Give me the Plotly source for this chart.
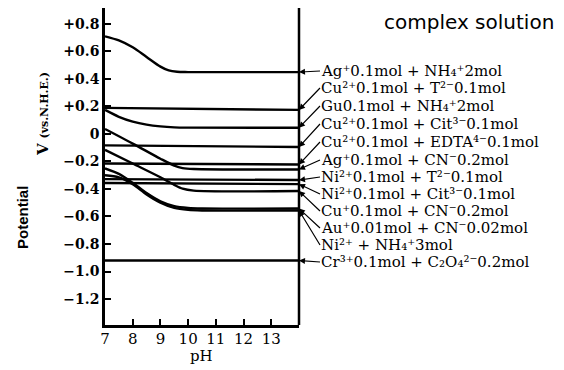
import plotly.graph_objects as go

# ---------------- data ----------------
ph_ag_nh4 = [7, 7.5, 8, 8.5, 9, 9.3, 9.6, 10, 14]
v_ag_nh4 = [0.71, 0.68, 0.63, 0.56, 0.49, 0.462, 0.452, 0.45, 0.45]

ph_cu_t = [7, 14]
v_cu_t = [0.19, 0.175]

ph_cu_nh4 = [7, 7.5, 8, 8.5, 9, 9.5, 10, 14]
v_cu_nh4 = [0.175, 0.125, 0.09, 0.068, 0.055, 0.048, 0.046, 0.045]

ph_cu_cit = [7, 14]
v_cu_cit = [-0.083, -0.095]

ph_cu_edta = [7, 14]
v_cu_edta = [-0.215, -0.222]

ph_ag_cn = [7, 8, 9, 9.5, 9.8, 10.2, 14]
v_ag_cn = [0.036, -0.07, -0.18, -0.23, -0.248, -0.255, -0.258]

ph_ni_t = [7, 14]
v_ni_t = [-0.328, -0.335]

ph_ni_cit = [7, 14]
v_ni_cit = [-0.356, -0.365]

ph_cu_cn = [7, 8, 9, 9.5, 9.8, 10.2, 14]
v_cu_cn = [-0.115, -0.215, -0.315, -0.37, -0.398, -0.412, -0.415]

ph_au_cn = [7, 7.5, 8, 8.5, 9, 9.5, 10, 10.5, 14]
v_au_cn = [-0.25, -0.29, -0.355, -0.43, -0.49, -0.525, -0.538, -0.542, -0.542]

ph_ni_nh4 = [7, 7.5, 8, 8.5, 9, 9.5, 10, 10.5, 14]
v_ni_nh4 = [-0.30, -0.315, -0.365, -0.44, -0.50, -0.538, -0.552, -0.556, -0.556]

ph_cr = [7, 14]
v_cr = [-0.92, -0.92]

series_names = [
    "Ag⁺0.1mol + NH₄⁺2mol",
    "Cu²⁺0.1mol + T²⁻0.1mol",
    "Gu0.1mol + NH₄⁺2mol",
    "Cu²⁺0.1mol + Cit³⁻0.1mol",
    "Cu²⁺0.1mol + EDTA⁴⁻0.1mol",
    "Ag⁺0.1mol + CN⁻0.2mol",
    "Ni²⁺0.1mol + T²⁻0.1mol",
    "Ni²⁺0.1mol + Cit³⁻0.1mol",
    "Cu⁺0.1mol + CN⁻0.2mol",
    "Au⁺0.01mol + CN⁻0.02mol",
    "Ni²⁺ + NH₄⁺3mol",
    "Cr³⁺0.1mol + C₂O₄²⁻0.2mol",
]
series_x = [ph_ag_nh4, ph_cu_t, ph_cu_nh4, ph_cu_cit, ph_cu_edta, ph_ag_cn,
            ph_ni_t, ph_ni_cit, ph_cu_cn, ph_au_cn, ph_ni_nh4, ph_cr]
series_y = [v_ag_nh4, v_cu_t, v_cu_nh4, v_cu_cit, v_cu_edta, v_ag_cn,
            v_ni_t, v_ni_cit, v_cu_cn, v_au_cn, v_ni_nh4, v_cr]

x_tick_vals = [7, 8, 9, 10, 11, 12, 13]
y_tick_vals = [0.8, 0.6, 0.4, 0.2, 0, -0.2, -0.4, -0.6, -0.8, -1.0, -1.2]
y_tick_text = ["+0.8", "+0.6", "+0.4", "+0.2", "0", "−0.2", "−0.4", "−0.6", "−0.8", "−1.0", "−1.2"]

# ---------------- layout geometry ----------------
# the page body adds an 8 px offset, so positions read from the picture are shifted back
OFF = 8
W, H = 564, 370
PLOT_LEFT, PLOT_RIGHT, PLOT_TOP, PLOT_BOTTOM = 105, 299, 8, 325   # picture pixels
L = PLOT_LEFT - OFF
R = W - (PLOT_RIGHT - OFF)
T = PLOT_TOP - OFF
B = H - (PLOT_BOTTOM - OFF)
X_RANGE = [7, 14]
Y_RANGE = [-1.389, 0.916]


def px_x(px):
    return (px - PLOT_LEFT) / (PLOT_RIGHT - PLOT_LEFT)


def px_y(py):
    return (PLOT_BOTTOM - py) / (PLOT_BOTTOM - PLOT_TOP)


def data_x(px):
    return X_RANGE[0] + px_x(px) * (X_RANGE[1] - X_RANGE[0])


def data_y(py):
    return Y_RANGE[0] + px_y(py) * (Y_RANGE[1] - Y_RANGE[0])


label_py = [71, 88, 106, 124, 142, 160, 177, 194, 211, 228, 245, 262]
label_px = 320

fig = go.Figure()
for ph, v, name in zip(series_x, series_y, series_names):
    fig.add_trace(go.Scatter(x=ph, y=v, mode="lines", name=name,
                             line=dict(color="black", width=2.4, shape="spline", smoothing=0.8),
                             showlegend=False, hoverinfo="skip", cliponaxis=False))

for ph, v, name, py in zip(series_x, series_y, series_names, label_py):
    fig.add_annotation(
        x=ph[-1], y=v[-1], xref="x", yref="y",
        ax=data_x(label_px), ay=data_y(py), axref="x", ayref="y",
        text=name, showarrow=True, arrowhead=2, arrowsize=1, arrowwidth=1.2,
        arrowcolor="black", xanchor="left", yanchor="middle",
        font=dict(family="DejaVu Serif", size=15, color="black"), borderpad=0,
    )

# right vertical line
fig.add_shape(type="line", xref="paper", yref="paper", x0=1, x1=1, y0=0, y1=1,
              line=dict(color="black", width=2.5))

# title and axis titles
fig.add_annotation(x=px_x(469), y=px_y(22), xref="paper", yref="paper", text="complex solution",
                   xanchor="center", yanchor="middle", showarrow=False,
                   font=dict(family="DejaVu Sans", size=20, color="black"))
fig.add_annotation(x=px_x(22), y=px_y(218), xref="paper", yref="paper", text="<b>Potential</b>",
                   xanchor="center", yanchor="middle", textangle=-90, showarrow=False,
                   font=dict(family="Liberation Sans", size=15, color="black"))
fig.add_annotation(x=px_x(43), y=px_y(114), xref="paper", yref="paper",
                   text="<b>V</b> <span style='font-size:11px'><b>(vs.N.H.E.)</b></span>",
                   xanchor="center", yanchor="middle", textangle=-90, showarrow=False,
                   font=dict(family="DejaVu Serif", size=15, color="black"))
fig.add_annotation(x=px_x(201), y=px_y(356), xref="paper", yref="paper", text="pH",
                   xanchor="center", yanchor="middle", showarrow=False,
                   font=dict(family="DejaVu Serif", size=15, color="black"))

fig.update_xaxes(range=X_RANGE, tickvals=x_tick_vals, ticks="inside", ticklen=6, tickwidth=2,
                 tickcolor="black", showline=True, linewidth=2.5, linecolor="black",
                 showgrid=False, zeroline=False, ticklabelstandoff=-2,
                 tickfont=dict(family="DejaVu Serif", size=15, color="black"))
fig.update_yaxes(range=Y_RANGE, tickvals=y_tick_vals, ticktext=y_tick_text, ticks="inside",
                 ticklen=6, tickwidth=2, tickcolor="black", showline=True, linewidth=2.5,
                 linecolor="black", showgrid=False, zeroline=False,
                 tickfont=dict(family="DejaVu Serif", size=14, color="black", weight="bold"))

fig.update_layout(width=W, height=H, margin=dict(l=L, r=R, t=T, b=B, autoexpand=False),
                  paper_bgcolor="white", plot_bgcolor="white", showlegend=False)

fig.write_html("out.html")
